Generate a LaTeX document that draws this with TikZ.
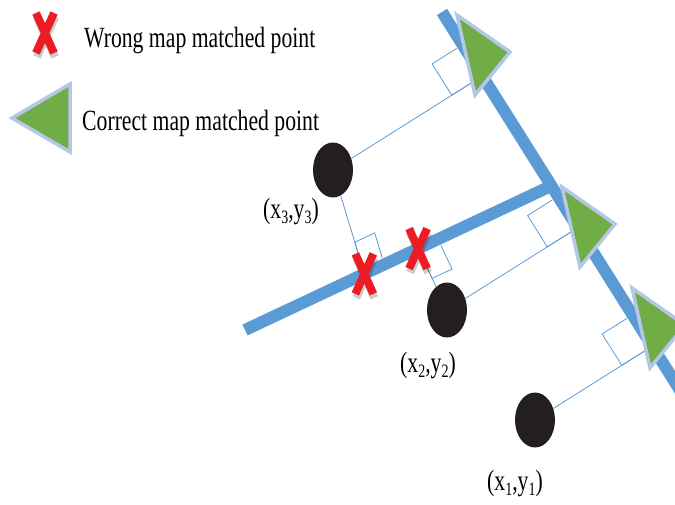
\documentclass[tikz,border=0pt]{standalone}
\usepackage{fontspec}
\setmainfont{Liberation Serif}
\usepackage{graphicx}
\usetikzlibrary{calc, shapes.geometric}
\definecolor{roadBlue}{HTML}{5B9BD5}
\definecolor{matchGreen}{HTML}{70AD47}
\definecolor{edgeBlue}{HTML}{B4C7E7}
\definecolor{wrongRed}{HTML}{ED1C24}
\definecolor{dotBlack}{HTML}{231F20}
\newcommand{\tallText}[1]{\scalebox{1}[1.35]{#1}}
\newcommand{\lowSub}[1]{\raisebox{-4pt}{\fontsize{14}{14}\selectfont #1}}

\begin{document}
\begin{tikzpicture}[x=1pt, y=-1pt,
    road/.style={line width=12pt, roadBlue},
    perp/.style={roadBlue, line width=0.8pt},
    matched/.style={fill=matchGreen, draw=edgeBlue, line width=3.5pt, line join=miter},
    gpsdot/.style={ellipse, fill=dotBlack, minimum width=40pt, minimum height=55pt, inner sep=0pt},
    txt/.style={font=\fontsize{21.7}{26}\selectfont, inner sep=0pt},
    wrongx/.pic={
        \draw[line width=8pt, black, opacity=0.2] (-8,-16) -- (10,24) (10,-16) -- (-8,24);
        \draw[line width=8pt, wrongRed] (-9,-20) -- (9,20) (9,-20) -- (-9,20);
    }]
    \useasboundingbox (0,0) rectangle (675,504);
    \clip (0,0) rectangle (675,504);
    % legend
    \pic at (45,33) {wrongx};
    \node[txt, anchor=base west] (wrongtxt) at (84,47) {\tallText{Wrong map matched point}};
    \draw[matched] (70,84) -- (12,118) -- (70,152) -- cycle;
    \node[txt, anchor=base west] (correcttxt) at (82,130) {\tallText{Correct map matched point}};
    % roads
    \coordinate (a1) at (442,12);
    \coordinate (a2) at (700,422);
    \coordinate (b1) at (245,330);
    \coordinate (b2) at (551,186);
    % gps points
    \node[gpsdot] (c3) at (333,170) {};
    \node[gpsdot] (c2) at (447,310) {};
    \node[gpsdot] (c1) at (535,420) {};
    \node[txt, anchor=base] (lab3) at (291,218) {\tallText{(x\lowSub{3},y\lowSub{3})}};
    \node[txt, anchor=base] (lab2) at (428,372) {\tallText{(x\lowSub{2},y\lowSub{2})}};
    \node[txt, anchor=base] (lab1) at (515,490) {\tallText{(x\lowSub{1},y\lowSub{1})}};
    % feet of the perpendiculars
    \foreach \p in {1,2,3}
        \coordinate (fa\p) at ($(a1)!(c\p)!(a2)$);
    \coordinate (fb3) at ($(b1)!0.39!(b2)$);
    \coordinate (fb2) at ($(b1)!(c2)!(b2)$);
    \foreach \p in {1,2,3} {
        \draw[perp] (c\p) -- (fa\p);
        \draw[perp] ($(fa\p)!7pt!(c\p)$) -- ($(fa\p)!36pt!(c\p)$)
            -- ($(fa\p)!36pt!(c\p) + (fa\p)!37pt!(a1) - (fa\p)$)
            -- ($(fa\p)!7pt!(c\p) + (fa\p)!37pt!(a1) - (fa\p)$);
    }
    \foreach \p in {2,3} {
        \draw[perp] (c\p) -- (fb\p);
        \draw[perp] ($(fb\p)!7pt!(c\p)$) -- ($(fb\p)!33pt!(c\p)$)
            -- ($(fb\p)!33pt!(c\p) + (fb\p)!22pt!(b2) - (fb\p)$)
            -- ($(fb\p)!7pt!(c\p) + (fb\p)!22pt!(b2) - (fb\p)$);
    }
    \draw[road] (b1) -- (b2);
    \draw[road] (a1) -- (a2);
    % matched points
    \foreach \tx/\ty in {457/15, 562/187, 632/288}
        \draw[matched] (\tx,\ty) -- ++(53,37) -- ++(-35,43) -- cycle;
    \pic at (fb3) {wrongx};
    \pic at (fb2) {wrongx};
\end{tikzpicture}
\end{document}
